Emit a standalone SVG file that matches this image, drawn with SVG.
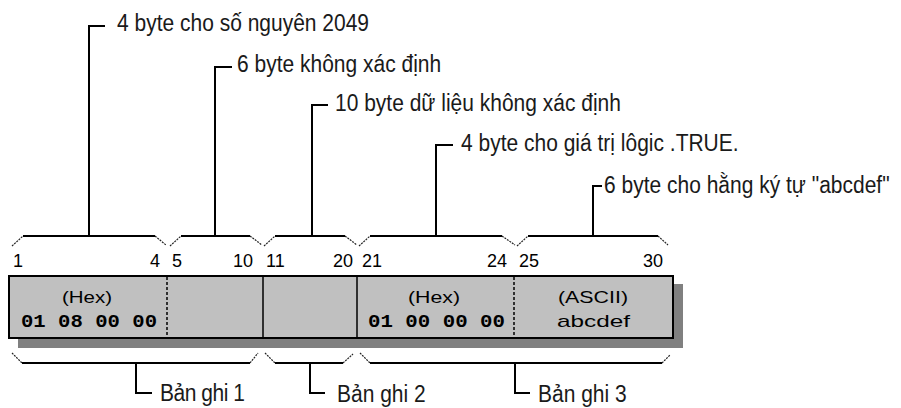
<svg xmlns="http://www.w3.org/2000/svg" width="901" height="408" viewBox="0 0 901 408">
<style>
.lbl{font-family:"Liberation Sans",Arial,sans-serif;font-size:21px;fill:#1a1a1a}
.num{font-family:"Liberation Sans",Arial,sans-serif;font-size:18px;fill:#000}
.in{font-family:"Liberation Sans",Arial,sans-serif;font-size:17px;fill:#000}
.hex{font-family:"Liberation Mono","DejaVu Sans Mono",monospace;font-size:18px;font-weight:bold;fill:#000}
.ld{fill:none;stroke:#000;stroke-width:2}
.br{fill:none;stroke:#000;stroke-width:2}
.bt{fill:none;stroke:#222;stroke-width:1.2;stroke-dasharray:2 1}
.dv{stroke:#000;stroke-width:1.5}
.dd{stroke:#000;stroke-width:1.5;stroke-dasharray:3 2}
</style>
<rect width="901" height="408" fill="#fff"/>
<g id="record-box">
  <rect x="18" y="284" width="665" height="64" fill="#808080"/>
  <rect x="9" y="276" width="664" height="62" fill="#c0c0c0" stroke="#000" stroke-width="2"/>
  <line class="dd" x1="167" y1="277" x2="167" y2="337"/>
  <line class="dv" x1="263" y1="277" x2="263" y2="337"/>
  <line class="dv" x1="357" y1="277" x2="357" y2="337"/>
  <line class="dd" x1="514" y1="277" x2="514" y2="337"/>
  <text class="in" x="62" y="303" textLength="50" lengthAdjust="spacingAndGlyphs">(Hex)</text>
  <text class="hex" x="21" y="327" textLength="136" lengthAdjust="spacingAndGlyphs">01 08 00 00</text>
  <text class="in" x="408" y="303" textLength="52" lengthAdjust="spacingAndGlyphs">(Hex)</text>
  <text class="hex" x="368" y="327" textLength="137" lengthAdjust="spacingAndGlyphs">01 00 00 00</text>
  <text class="in" x="558" y="303" textLength="70" lengthAdjust="spacingAndGlyphs">(ASCII)</text>
  <text class="in" x="557" y="327" textLength="73" lengthAdjust="spacingAndGlyphs">abcdef</text>
</g>
<g id="byte-numbers">
  <text class="num" x="13" y="267">1</text>
  <text class="num" x="160" y="267" text-anchor="end">4</text>
  <text class="num" x="172" y="267">5</text>
  <text class="num" x="253" y="267" text-anchor="end">10</text>
  <text class="num" x="266" y="267">11</text>
  <text class="num" x="353" y="267" text-anchor="end">20</text>
  <text class="num" x="362" y="267">21</text>
  <text class="num" x="507" y="267" text-anchor="end">24</text>
  <text class="num" x="519" y="267">25</text>
  <text class="num" x="663" y="267" text-anchor="end">30</text>
</g>
<g id="label-1"><text class="lbl" transform="translate(117,31) scale(1,1.12)">4 byte cho số nguyên 2049</text></g>
<g id="label-2"><text class="lbl" transform="translate(237,72) scale(1,1.12)">6 byte không xác định</text></g>
<g id="label-3"><text class="lbl" transform="translate(335,111) scale(1,1.12)">10 byte dữ liệu không xác định</text></g>
<g id="label-4"><text class="lbl" transform="translate(461,151) scale(1,1.12)">4 byte cho giá trị lôgic .TRUE.</text></g>
<g id="label-5"><text class="lbl" transform="translate(604,193) scale(1,1.12)">6 byte cho hằng ký tự "abcdef"</text></g>
<g id="record-1"><text class="lbl" transform="translate(160,401) scale(1,1.12)" textLength="85">Bản ghi 1</text></g>
<g id="record-2"><text class="lbl" transform="translate(337,402) scale(1,1.12)">Bản ghi 2</text></g>
<g id="record-3"><text class="lbl" transform="translate(538,402) scale(1,1.12)">Bản ghi 3</text></g>
<g id="connectors">
  <!-- top leaders -->
  <path class="ld" d="M105,26 H89 V236"/>
  <path class="ld" d="M232,67 H215 V236"/>
  <path class="ld" d="M328,105 H312 V236"/>
  <path class="ld" d="M453,145 H436 V236"/>
  <path class="ld" d="M602,186 H593 V236"/>
  <!-- top braces -->
  <path class="br" d="M23,236 H155"/>
  <path class="bt" d="M12,246 L23,236 M155,236 L166,245"/>
  <path class="br" d="M181,236 H250"/>
  <path class="bt" d="M170,246 L181,236 M250,236 L262,245"/>
  <path class="br" d="M275,236 H345"/>
  <path class="bt" d="M264,246 L275,236 M345,236 L357,245"/>
  <path class="br" d="M370,236 H502"/>
  <path class="bt" d="M359,246 L370,236 M502,236 L515,245"/>
  <path class="br" d="M528,236 H658"/>
  <path class="bt" d="M517,246 L528,236 M658,236 L668,245"/>
  <!-- bottom braces -->
  <path class="br" d="M22,363 H250"/>
  <path class="bt" d="M12,353 L22,363 M250,363 L258,353"/>
  <path class="br" d="M275,363 H343"/>
  <path class="bt" d="M265,353 L275,363 M343,363 L353,354"/>
  <path class="br" d="M370,363 H662"/>
  <path class="bt" d="M360,353 L370,363 M662,363 L670,355"/>
  <!-- bottom leaders -->
  <path class="ld" d="M136,363 V393 H152"/>
  <path class="ld" d="M310,363 V393 H325"/>
  <path class="ld" d="M515,363 V393 H530"/>
</g>
</svg>
